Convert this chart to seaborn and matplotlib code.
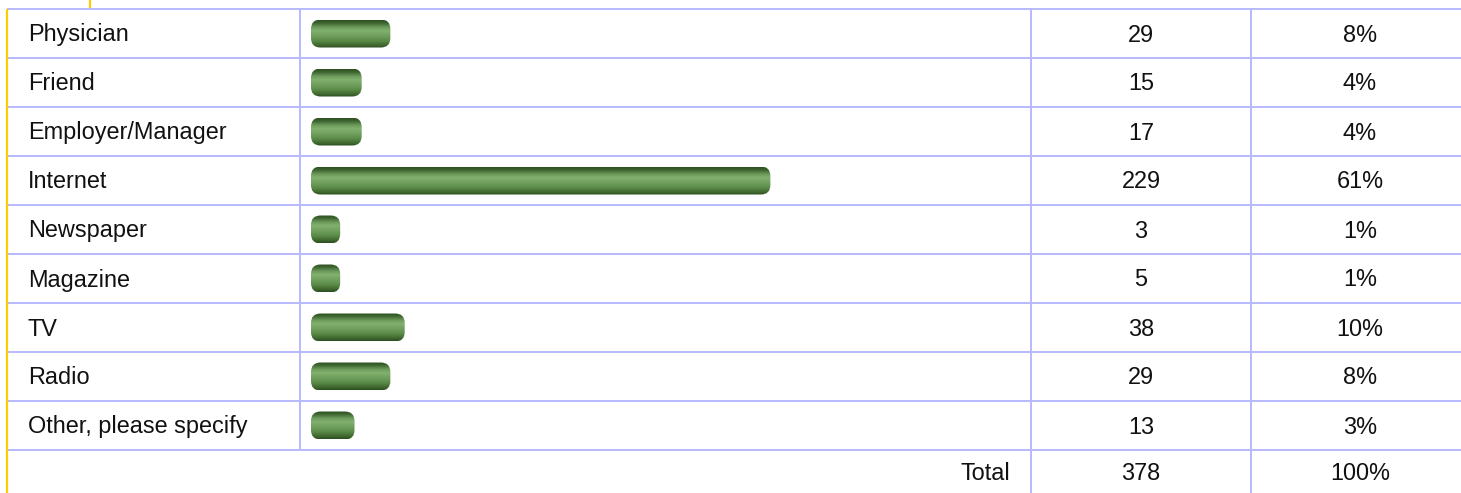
import numpy as np
import pandas as pd
import matplotlib
matplotlib.use("Agg")
import matplotlib.pyplot as plt
from matplotlib.patches import FancyBboxPatch
from matplotlib.colors import LinearSegmentedColormap
import seaborn as sns

# Survey responses: where did you hear about us?
sources = ["Physician", "Friend", "Employer/Manager", "Internet", "Newspaper",
           "Magazine", "TV", "Radio", "Other, please specify"]
counts = [29, 15, 17, 229, 3, 5, 38, 29, 13]
percents = [8, 4, 4, 61, 1, 1, 10, 8, 3]
total_label = "Total"
total_count = 378
total_percent = 100

df = pd.DataFrame({"source": sources, "count": counts, "percent": percents})

W, H = 1461, 493
DPI = 100
TOP = 9            # top rule of the table (px)
ROW = 49           # row pitch (px)
n = len(sources)
body_bottom = TOP + ROW * n
col_bar, col_count, col_pct = 300, 1031, 1251
grid_color = "#b9b9fd"
accent = "#ffcc00"
text_color = "#111111"
font = "Liberation Sans"
fs = 23.5 * 72 / DPI

sns.set_theme(style="white")
plt.rcParams["font.family"] = [font, "DejaVu Sans"]

fig = plt.figure(figsize=(W / DPI, H / DPI), dpi=DPI)
fig.patch.set_facecolor("white")

# Bar column axes
px_per_pct = 7.17
cap = 11
zero_px = col_bar + 11 + cap
ax = fig.add_axes([col_bar / W, (H - body_bottom) / H,
                   (col_count - col_bar) / W, (body_bottom - TOP) / H])
sns.barplot(data=df, x="percent", y="source", orient="h", color="#5a8a48",
            width=28 / ROW, ax=ax)
ax.set_xlim((col_bar - zero_px) / px_per_pct, (col_count - zero_px) / px_per_pct)
ax.set_ylim(n - 0.5, -0.5)
ax.axis("off")

# Overlay in pixel coordinates for the table frame, text and styled bars
ov = fig.add_axes([0, 0, 1, 1])
ov.set_xlim(0, W)
ov.set_ylim(H, 0)
ov.axis("off")
ov.patch.set_visible(False)

lw = 2 * 72 / DPI
for k in range(n + 1):
    y = TOP + ROW * k
    ov.plot([7, W], [y, y], color=grid_color, lw=lw, solid_capstyle="butt")
ov.plot([col_bar, col_bar], [TOP, body_bottom], color=grid_color, lw=lw)
for x in (col_count, col_pct):
    ov.plot([x, x], [TOP, H], color=grid_color, lw=lw)
ov.plot([7, 7], [TOP, H], color=accent, lw=2.2 * 72 / DPI, solid_capstyle="butt")
ov.plot([90, 90], [0, TOP - 1.5], color=accent, lw=2.2 * 72 / DPI, solid_capstyle="butt")

# Glossy green gradient for the bars
grad = LinearSegmentedColormap.from_list("gloss", [
    (0.00, "#2d5022"), (0.10, "#3d642f"), (0.25, "#6c9a5b"),
    (0.38, "#82b06e"), (0.55, "#72a15f"), (0.75, "#5a8a48"),
    (0.90, "#40692f"), (1.00, "#2c4e21")])
gimg = grad(np.linspace(0, 1, 64))[:, None, :]

fig.canvas.draw()
for bar in list(ax.patches):
    bb = bar.get_window_extent()
    x0, x1 = bb.x0 - cap, bb.x1 + cap
    top, bot = H - bb.y1, H - bb.y0
    shape = FancyBboxPatch((x0, top), x1 - x0, bot - top,
                           boxstyle="round,pad=0,rounding_size=9.5",
                           facecolor="none", edgecolor="none")
    ov.add_patch(shape)
    im = ov.imshow(gimg, extent=[x0, x1, bot, top], aspect="auto",
                   interpolation="bilinear", zorder=2)
    im.set_clip_path(shape)
    bar.set_visible(False)
ov.set_xlim(0, W)
ov.set_ylim(H, 0)

cnt_x = (col_count + col_pct) / 2
pct_x = 1360
for i, (s, c, p) in enumerate(zip(sources, counts, percents)):
    yc = TOP + ROW * (i + 0.5) - 1
    ov.text(28, yc, s, ha="left", va="center_baseline", fontsize=fs, color=text_color)
    ov.text(cnt_x, yc, f"{c}", ha="center", va="center_baseline", fontsize=fs, color=text_color)
    ov.text(pct_x, yc, f"{p}%", ha="center", va="center_baseline", fontsize=fs, color=text_color)

yt = body_bottom + 21
ov.text(1010, yt, total_label, ha="right", va="center_baseline", fontsize=fs, color=text_color)
ov.text(cnt_x, yt, f"{total_count}", ha="center", va="center_baseline", fontsize=fs, color=text_color)
ov.text(pct_x, yt, f"{total_percent}%", ha="center", va="center_baseline", fontsize=fs, color=text_color)

fig.savefig("out.png", dpi=DPI, facecolor="white")
